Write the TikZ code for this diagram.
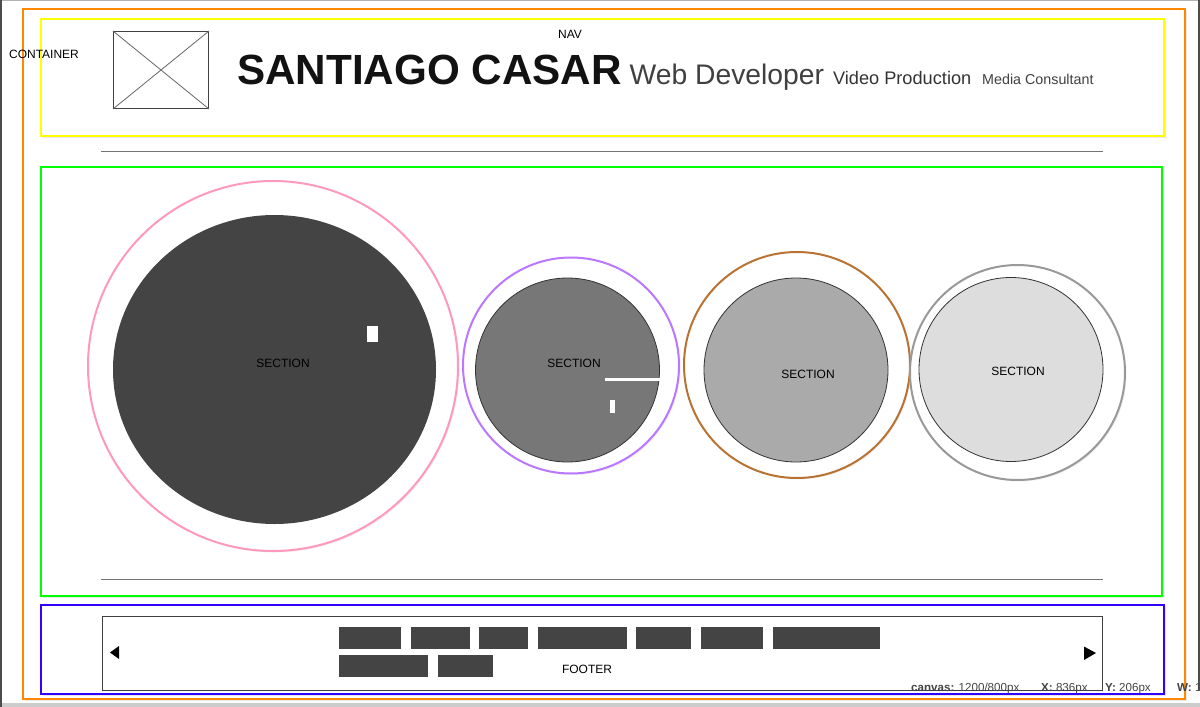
\documentclass[tikz,border=0pt]{standalone}
\usepackage{fontspec}
\setmainfont{Liberation Sans}
\usepackage{xcolor}
\definecolor{wireorange}{HTML}{FF8800}
\definecolor{wireyellow}{HTML}{FFFF00}
\definecolor{wiregreen}{HTML}{00FF00}
\definecolor{wireblue}{HTML}{3300FF}
\definecolor{ringpink}{HTML}{FF99BB}
\definecolor{ringpurple}{HTML}{BB77FF}
\definecolor{ringbrown}{HTML}{B87333}
\definecolor{ringgray}{HTML}{999999}
\definecolor{discdark}{HTML}{444444}
\definecolor{discmid}{HTML}{777777}
\definecolor{disclight}{HTML}{AAAAAA}
\definecolor{discpale}{HTML}{DDDDDD}
\definecolor{statusgray}{HTML}{444444}
\usepackage{tikz}
\usetikzlibrary{
  positioning,
  shadows
}
\newcommand\fsz[1]{\fontsize{#1pt}{#1pt}\selectfont}

\begin{document}
\begin{tikzpicture}[
  x=1pt, y=-1pt,
  every node/.style={font=\fsz{12}, inner sep=0pt},
  frame/.style={draw=#1, line width=2pt, fill=white,
    drop shadow={opacity=0.18, shadow xshift=2pt, shadow yshift=-2pt}},
  ring/.style={draw=#1, line width=2pt, fill=white,
    drop shadow={opacity=0.12, shadow xshift=1.5pt, shadow yshift=-1.5pt}},
  disc/.style={fill=#1, draw=black!80, line width=0.8pt},
  rule/.style={draw=black!55, line width=1pt},
  block/.style={fill=discdark},
  marker/.style={fill=white},
  status/.style={font=\fsz{11.6}, text=statusgray, anchor=base west}
]
% Page
\useasboundingbox (0,0) rectangle (1200,707);
\fill[white] (0,0) rectangle (1200,707);
\fill[black!30] (0,0) rectangle (1200,1);
\fill[black!20] (0,703) rectangle (1200,707);
\fill[black!70] (0,0) rectangle (2,707);
\fill[black!70] (1197.5,0) rectangle (1200,690);

% Container
\draw[frame=wireorange] (23,9) rectangle (1185,699);

% Nav
\draw[frame=wireyellow] (41,19) rectangle (1164,136);
\node (ct) at (44,54) {CONTAINER};
\node (nv) at (570,34) {NAV};
\node[draw=black!75, line width=1pt, minimum width=95pt, minimum height=77pt,
  anchor=north west] (logo) at (113,31) {};
\draw[black!60, line width=0.8pt] (logo.north west) -- (logo.south east);
\draw[black!60, line width=0.8pt] (logo.south west) -- (logo.north east);

\node[anchor=base west, font=\fsz{42.2}\bfseries, text=black!93] (ti) at (237,84)
  {SANTIAGO CASAR};
\node[base right=7.5pt of ti, font=\fsz{28.3}, text=black!75] (wd) {Web Developer};
\node[base right=8.5pt of wd, font=\fsz{18.2}, text=black!80] (vp) {Video Production};
\node[base right=10.5pt of vp, font=\fsz{14.3}, text=black!75] (mc) {Media Consultant};

\draw[rule] (101,151) -- (1103,151);

% Sections
\draw[frame=wiregreen] (41,167) rectangle (1162,596);

\draw[ring=ringpink] (273,366) circle[radius=185];
\fill[discdark] (274.5,369.5) ellipse[x radius=161.5, y radius=154.5];
\fill[marker] (367,326) rectangle (378,342);
\node (s1) at (283,363) {SECTION};

\draw[ring=ringpurple] (571,365.5) circle[radius=108];
\draw[disc=discmid] (567.5,370) circle[radius=92];
\draw[white, line width=3pt] (605,379) -- (659.5,379);
\fill[marker] (610,400) rectangle (615,413);
\node (s2) at (574,363) {SECTION};

\draw[ring=ringbrown] (797,365) circle[radius=113];
\draw[disc=disclight] (796,370) circle[radius=92];
\node (s3) at (808,374) {SECTION};

\draw[ring=ringgray] (1017.5,372.5) circle[radius=107.5];
\draw[disc=discpale] (1011,369.5) circle[radius=92];
\node (s4) at (1018,371) {SECTION};

\draw[rule] (101,579) -- (1103,579);

% Footer
\draw[frame=wireblue] (41,605) rectangle (1164,694);
\node[draw=black!75, line width=1pt, minimum width=1000pt, minimum height=74pt,
  anchor=north west] (fb) at (102,616) {};
\fill (119,646) -- (110,652.5) -- (119,659) -- cycle;
\fill (1084,646.5) -- (1096,653) -- (1084,660) -- cycle;
\foreach \a/\b in {339/401, 411/470, 479/528, 538/627, 636/691, 701/763, 773/880}
  \fill[block] (\a,627) rectangle (\b,649);
\foreach \a/\b in {339/428, 438/493}
  \fill[block] (\a,655) rectangle (\b,677);
\node (ft) at (587,669) {FOOTER};

% Status bar
\node[status] (cv) at (911,691) {\textbf{canvas:} 1200/800px};
\node[status] (px) at (1041,691) {\textbf{X:} 836px};
\node[status] (py) at (1105,691) {\textbf{Y:} 206px};
\node[status] (pw) at (1177,691) {\textbf{W:} 1};

\end{tikzpicture}
\end{document}
